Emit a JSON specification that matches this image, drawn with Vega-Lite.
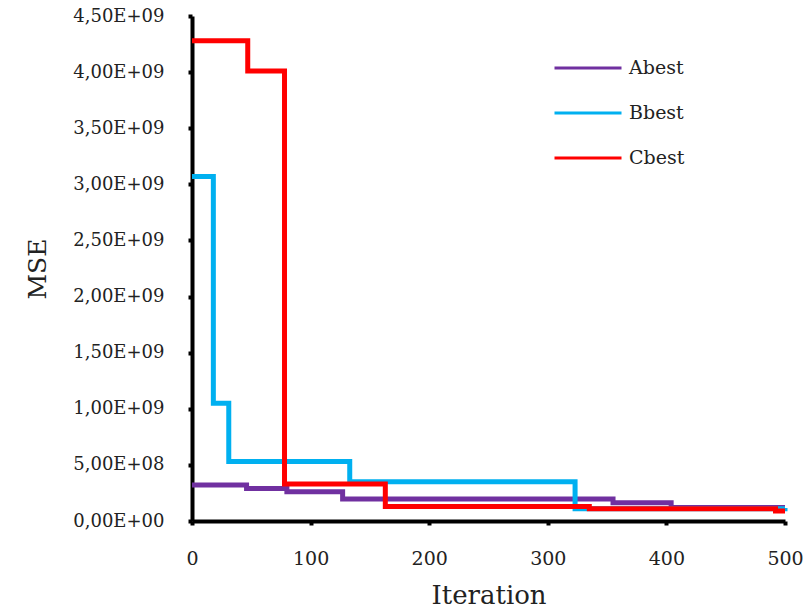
{
  "$schema": "https://vega.github.io/schema/vega-lite/v6.json",
  "width": 593,
  "height": 505,
  "autosize": {"type": "none"},
  "padding": {"left": 192, "top": 16, "right": 23, "bottom": 94},
  "background": "white",
  "config": {"view": {"stroke": null}},
  "data": {"values": [
    {"series": "Abest", "iter": 0, "mse": 320000000},
    {"series": "Abest", "iter": 46, "mse": 290000000},
    {"series": "Abest", "iter": 80, "mse": 260000000},
    {"series": "Abest", "iter": 127, "mse": 195000000},
    {"series": "Abest", "iter": 355, "mse": 162000000},
    {"series": "Abest", "iter": 404, "mse": 120000000},
    {"series": "Abest", "iter": 500, "mse": 120000000},
    {"series": "Bbest", "iter": 0, "mse": 3070000000},
    {"series": "Bbest", "iter": 18, "mse": 1050000000},
    {"series": "Bbest", "iter": 31, "mse": 530000000},
    {"series": "Bbest", "iter": 133, "mse": 350000000},
    {"series": "Bbest", "iter": 323, "mse": 110000000},
    {"series": "Bbest", "iter": 500, "mse": 115000000},
    {"series": "Cbest", "iter": 0, "mse": 4280000000},
    {"series": "Cbest", "iter": 47, "mse": 4010000000},
    {"series": "Cbest", "iter": 78, "mse": 330000000},
    {"series": "Cbest", "iter": 163, "mse": 130000000},
    {"series": "Cbest", "iter": 335, "mse": 110000000},
    {"series": "Cbest", "iter": 492, "mse": 90000000},
    {"series": "Cbest", "iter": 500, "mse": 90000000}
  ]},
  "mark": {"type": "line", "interpolate": "step-after", "strokeWidth": 5, "clip": false},
  "encoding": {
    "x": {
      "field": "iter", "type": "quantitative",
      "scale": {"domain": [0, 500], "nice": false},
      "axis": {
        "title": "Iteration", "values": [0, 100, 200, 300, 400, 500],
        "grid": false, "domainColor": "black", "domainWidth": 4,
        "tickColor": "black", "tickWidth": 4, "tickSize": 4,
        "labelFont": "DejaVu Serif", "labelFontSize": 19, "labelColor": "#222",
        "labelPadding": 24, "labelFlush": false,
        "titleFont": "DejaVu Serif", "titleFontSize": 26, "titleFontWeight": "normal",
        "titleColor": "#222", "titlePadding": 14
      }
    },
    "y": {
      "field": "mse", "type": "quantitative",
      "scale": {"domain": [0, 4500000000], "nice": false},
      "axis": {
        "title": "MSE",
        "values": [0, 500000000, 1000000000, 1500000000, 2000000000, 2500000000, 3000000000, 3500000000, 4000000000, 4500000000],
        "labelExpr": "datum.value == 0 ? '0,00E+00' : (datum.value < 1000000000 ? replace(format(datum.value/100000000, '.2f'), '.', ',') + 'E+08' : replace(format(datum.value/1000000000, '.2f'), '.', ',') + 'E+09')",
        "grid": false, "domainColor": "black", "domainWidth": 4,
        "tickColor": "black", "tickWidth": 4, "tickSize": 4,
        "labelFont": "DejaVu Serif", "labelFontSize": 18, "labelColor": "#222",
        "labelPadding": 24, "labelFlush": false,
        "titleFont": "DejaVu Serif", "titleFontSize": 25, "titleFontWeight": "normal",
        "titleColor": "#222", "titlePadding": 22
      }
    },
    "color": {
      "field": "series", "type": "nominal",
      "scale": {"domain": ["Abest", "Bbest", "Cbest"], "range": ["#7030A0", "#00B0F0", "#FF0000"]},
      "legend": {
        "title": null, "orient": "none", "legendX": 361, "legendY": 17,
        "symbolType": "stroke", "symbolSize": 4489, "symbolStrokeWidth": 3,
        "labelFont": "DejaVu Serif", "labelFontSize": 19, "labelColor": "#222",
        "labelOffset": 6, "rowPadding": -20
      }
    }
  }
}
